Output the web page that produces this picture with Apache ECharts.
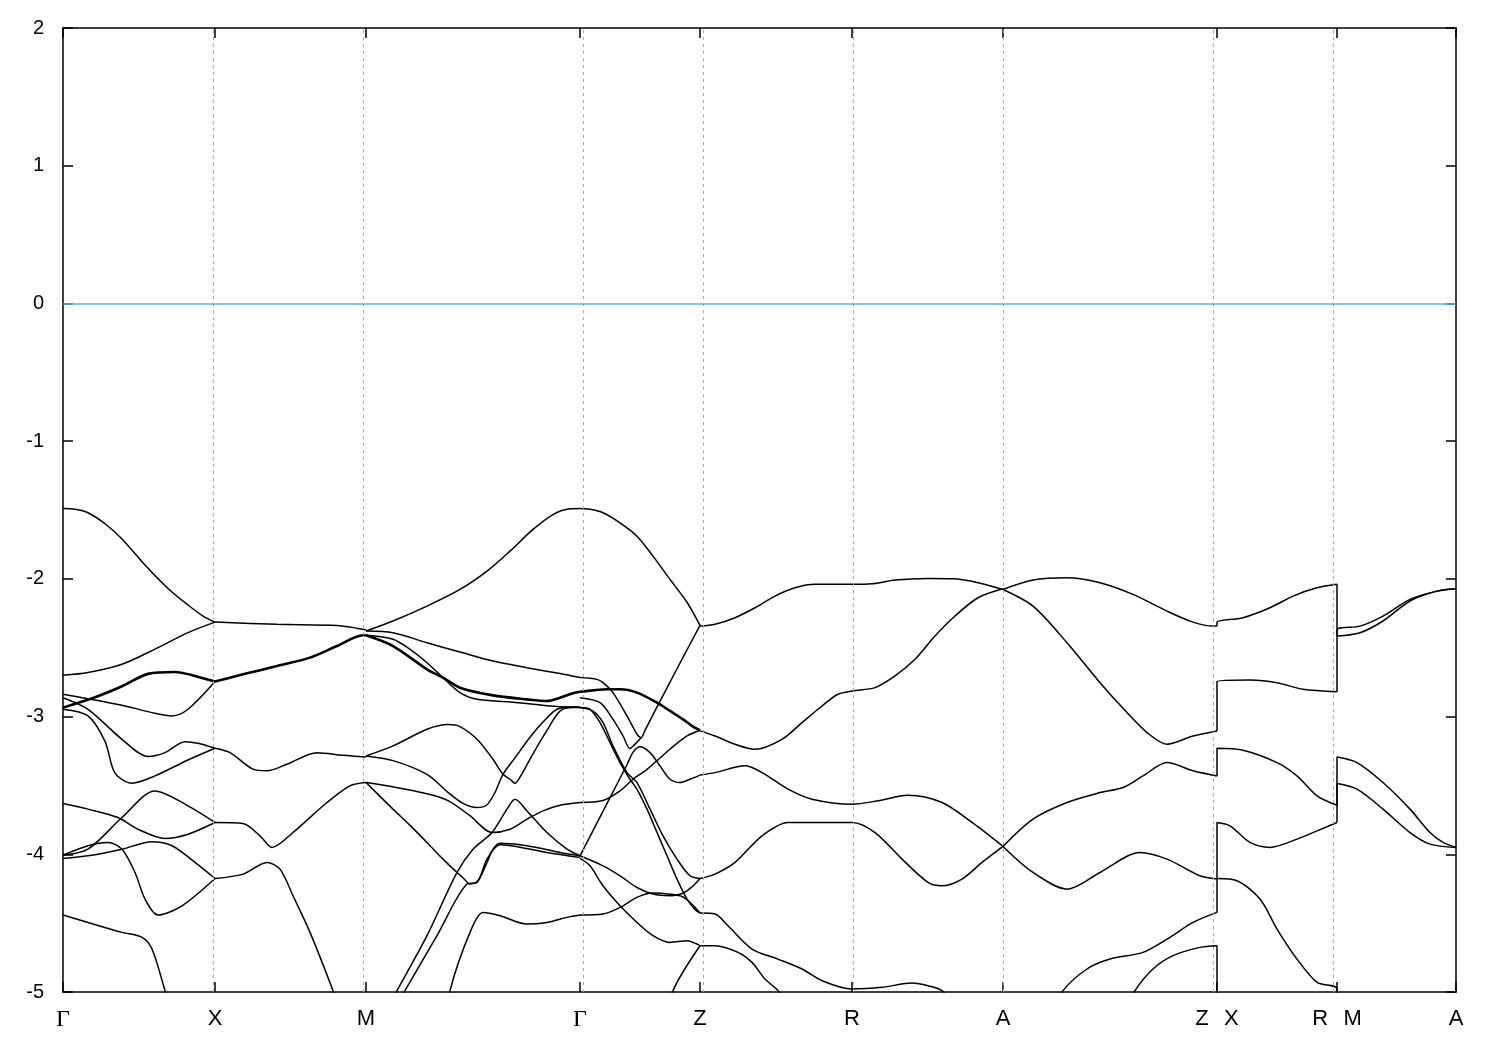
<!DOCTYPE html>
<html>
<head>
<meta charset="utf-8">
<script src="https://cdn.jsdelivr.net/npm/echarts@6/dist/echarts.min.js"></script>
<style>
html,body{margin:0;padding:0;background:#fff;}
#chart{width:1500px;height:1050px;}
</style>
</head>
<body>
<div id="chart"></div>
<script>
// High-symmetry points along the k-path
const kTicks = [0, 0.152, 0.303, 0.517, 0.637, 0.789, 0.940, 1.154, 1.274, 1.393];
const kLabels = ['Γ', 'X', 'M', 'Γ', 'Z', 'R', 'A', 'Z\u2002\u2009X', 'R\u2002\u2009M', 'A'];
const yMin = -5, yMax = 2, yStep = 1;
const fermiLevel = 0;

// Γ – X
const bandsGX = [
  [[0,-1.49],[0.012,-1.495],[0.025,-1.52],[0.042,-1.60],[0.059,-1.71],[0.082,-1.90],[0.105,-2.07],[0.125,-2.19],[0.140,-2.27],[0.152,-2.314]],
  [[0,-2.70],[0.025,-2.68],[0.059,-2.62],[0.092,-2.51],[0.125,-2.39],[0.152,-2.314]],
  [[0,-2.838],[0.025,-2.87],[0.059,-2.918],[0.092,-2.976],[0.109,-2.995],[0.125,-2.947],[0.152,-2.746]],
  [[0,-2.863],[0.025,-2.947],[0.059,-3.165],[0.085,-3.29],[0.102,-3.262],[0.122,-3.182],[0.135,-3.194],[0.152,-3.23]],
  [[0,-2.947],[0.025,-2.995],[0.042,-3.18],[0.052,-3.41],[0.069,-3.484],[0.092,-3.431],[0.125,-3.315],[0.152,-3.23]],
  [[0,-3.631],[0.025,-3.672],[0.055,-3.733],[0.075,-3.818],[0.102,-3.885],[0.125,-3.854],[0.152,-3.769]],
  [[0,-4.006],[0.025,-3.963],[0.059,-3.733],[0.092,-3.540],[0.125,-3.648],[0.152,-3.769]],
  [[0,-4.03],[0.025,-4.011],[0.059,-3.963],[0.089,-3.909],[0.109,-3.938],[0.132,-4.059],[0.152,-4.176]],
  [[0,-4.006],[0.025,-3.938],[0.045,-3.914],[0.059,-3.963],[0.072,-4.132],[0.082,-4.325],[0.095,-4.441],[0.119,-4.374],[0.152,-4.176]],
  [[0,-4.441],[0.025,-4.495],[0.059,-4.567],[0.079,-4.603],[0.089,-4.688],[0.102,-4.99],[0.115,-5.3]]
];
const doubledGX = [
  [[0,-2.935],[0.032,-2.86],[0.059,-2.78],[0.085,-2.69],[0.112,-2.676],[0.132,-2.705],[0.152,-2.746]]
];

// X – M
const bandsXM = [
  [[0.152,-2.314],[0.214,-2.33],[0.274,-2.338],[0.295,-2.36],[0.303,-2.372]],
  [[0.152,-3.23],[0.167,-3.262],[0.190,-3.382],[0.204,-3.394],[0.224,-3.346],[0.254,-3.262],[0.280,-3.281],[0.303,-3.293]],
  [[0.152,-3.769],[0.180,-3.776],[0.197,-3.866],[0.209,-3.95],[0.230,-3.842],[0.264,-3.624],[0.287,-3.503],[0.303,-3.479]],
  [[0.152,-4.176],[0.180,-4.144],[0.204,-4.059],[0.217,-4.108],[0.230,-4.301],[0.247,-4.567],[0.270,-4.99],[0.280,-5.2]]
];
const doubledXM = [
  [[0.152,-2.746],[0.180,-2.693],[0.214,-2.633],[0.247,-2.572],[0.274,-2.488],[0.300,-2.41],[0.303,-2.41]]
];

// M – Γ
const bandsMG = [
  [[0.303,-2.379],[0.330,-2.306],[0.364,-2.198],[0.397,-2.077],[0.424,-1.944],[0.447,-1.799],[0.470,-1.641],[0.490,-1.533],[0.507,-1.491],[0.517,-1.489]],
  [[0.303,-2.379],[0.330,-2.391],[0.364,-2.464],[0.397,-2.531],[0.430,-2.597],[0.464,-2.645],[0.497,-2.688],[0.517,-2.717]],
  [[0.303,-2.41],[0.330,-2.439],[0.347,-2.512],[0.364,-2.609],[0.380,-2.717],[0.397,-2.826],[0.414,-2.875],[0.447,-2.894],[0.480,-2.918],[0.497,-2.928],[0.517,-2.93]],
  [[0.303,-3.286],[0.330,-3.213],[0.364,-3.092],[0.385,-3.058],[0.397,-3.073],[0.414,-3.165],[0.430,-3.31],[0.440,-3.419],[0.447,-3.455],[0.452,-3.484],[0.457,-3.44],[0.470,-3.27],[0.484,-3.10],[0.497,-2.96],[0.510,-2.935],[0.517,-2.935]],
  [[0.303,-3.286],[0.330,-3.32],[0.364,-3.42],[0.385,-3.55],[0.400,-3.63],[0.414,-3.66],[0.424,-3.64],[0.432,-3.55],[0.440,-3.419],[0.454,-3.28],[0.467,-3.15],[0.480,-3.04],[0.494,-2.947],[0.510,-2.93],[0.517,-2.935]],
  [[0.303,-3.479],[0.330,-3.51],[0.364,-3.56],[0.385,-3.61],[0.407,-3.72],[0.429,-3.842],[0.447,-3.818],[0.464,-3.745],[0.480,-3.685],[0.497,-3.644],[0.517,-3.624]],
  [[0.303,-3.479],[0.330,-3.672],[0.347,-3.79],[0.364,-3.914],[0.380,-4.035],[0.394,-4.132],[0.400,-4.17],[0.407,-4.216],[0.415,-4.192],[0.424,-4.059],[0.430,-3.963],[0.437,-3.919],[0.457,-3.93],[0.480,-3.96],[0.497,-3.987],[0.517,-4.011]],
  [[0.311,-5.3],[0.334,-4.99],[0.364,-4.591],[0.394,-4.132],[0.410,-3.963],[0.429,-3.842],[0.444,-3.672],[0.452,-3.60],[0.464,-3.685],[0.484,-3.842],[0.504,-3.963],[0.517,-4.011]],
  [[0.318,-5.3],[0.342,-4.99],[0.374,-4.591],[0.404,-4.216],[0.414,-4.204],[0.424,-4.035],[0.437,-3.93],[0.450,-3.94],[0.484,-3.987],[0.517,-4.023]],
  [[0.381,-5.3],[0.387,-4.99],[0.407,-4.567],[0.420,-4.422],[0.437,-4.446],[0.464,-4.507],[0.484,-4.495],[0.504,-4.458],[0.517,-4.441]]
];
const doubledMG = [
  [[0.303,-2.41],[0.330,-2.488],[0.364,-2.657],[0.380,-2.718],[0.397,-2.79],[0.430,-2.846],[0.464,-2.875],[0.484,-2.887],[0.497,-2.863],[0.510,-2.831],[0.517,-2.82]]
];

// Γ – Z
const bandsGZ = [
  [[0.517,-1.489],[0.527,-1.495],[0.540,-1.52],[0.557,-1.593],[0.574,-1.69],[0.590,-1.835],[0.607,-2.004],[0.624,-2.17],[0.637,-2.338]],
  [[0.517,-2.717],[0.534,-2.73],[0.540,-2.754],[0.550,-2.826],[0.564,-2.995],[0.574,-3.128],[0.578,-3.153],[0.582,-3.10],[0.594,-2.93],[0.607,-2.75],[0.620,-2.57],[0.637,-2.338]],
  [[0.517,-2.863],[0.537,-2.899],[0.550,-3.02],[0.560,-3.14],[0.567,-3.232],[0.572,-3.2],[0.578,-3.153]],
  [[0.517,-4.011],[0.534,-3.772],[0.547,-3.589],[0.557,-3.448],[0.564,-3.35],[0.570,-3.26],[0.577,-3.22],[0.587,-3.262],[0.597,-3.358],[0.607,-3.455],[0.617,-3.479],[0.627,-3.455],[0.637,-3.425]],
  [[0.517,-3.624],[0.540,-3.61],[0.557,-3.54],[0.570,-3.455],[0.584,-3.383],[0.607,-3.237],[0.624,-3.141],[0.637,-3.099]],
  [[0.517,-2.935],[0.527,-2.947],[0.537,-3.044],[0.547,-3.189],[0.557,-3.334],[0.567,-3.455],[0.574,-3.528],[0.584,-3.672],[0.594,-3.842],[0.604,-4.011],[0.614,-4.18],[0.624,-4.325],[0.632,-4.40],[0.637,-4.427]],
  [[0.517,-2.935],[0.530,-2.96],[0.540,-3.044],[0.550,-3.213],[0.564,-3.407],[0.574,-3.479],[0.587,-3.672],[0.600,-3.866],[0.614,-4.035],[0.627,-4.156],[0.637,-4.176]],
  [[0.517,-4.011],[0.540,-4.084],[0.557,-4.156],[0.574,-4.241],[0.590,-4.289],[0.607,-4.301],[0.620,-4.283],[0.630,-4.23],[0.637,-4.176]],
  [[0.517,-4.441],[0.540,-4.434],[0.557,-4.386],[0.574,-4.313],[0.590,-4.282],[0.607,-4.29],[0.620,-4.31],[0.630,-4.37],[0.637,-4.427]],
  [[0.517,-4.03],[0.527,-4.084],[0.540,-4.229],[0.557,-4.374],[0.574,-4.495],[0.590,-4.591],[0.607,-4.64],[0.624,-4.628],[0.634,-4.652],[0.637,-4.664]],
  [[0.600,-5.3],[0.610,-4.99],[0.637,-4.664]]
];
const doubledGZ = [
  [[0.517,-2.82],[0.530,-2.81],[0.544,-2.802],[0.557,-2.802],[0.574,-2.826],[0.594,-2.899],[0.607,-2.959],[0.620,-3.02],[0.630,-3.073],[0.637,-3.099]]
];

// Z – R – A
const bandsZRA = [
  [[0.637,-2.343],[0.652,-2.330],[0.672,-2.282],[0.692,-2.210],[0.712,-2.125],[0.732,-2.065],[0.752,-2.040],[0.789,-2.040],[0.809,-2.036],[0.832,-2.009],[0.865,-1.997],[0.892,-2.000],[0.915,-2.028],[0.940,-2.077]],
  [[0.637,-3.104],[0.652,-3.141],[0.672,-3.201],[0.692,-3.237],[0.719,-3.165],[0.739,-3.044],[0.759,-2.923],[0.775,-2.838],[0.789,-2.814],[0.812,-2.790],[0.832,-2.705],[0.852,-2.584],[0.872,-2.415],[0.892,-2.270],[0.915,-2.137],[0.940,-2.072]],
  [[0.637,-3.425],[0.652,-3.407],[0.682,-3.358],[0.699,-3.407],[0.725,-3.527],[0.749,-3.600],[0.789,-3.636],[0.815,-3.612],[0.845,-3.571],[0.879,-3.624],[0.909,-3.769],[0.940,-3.943]],
  [[0.637,-4.176],[0.652,-4.144],[0.672,-4.059],[0.699,-3.866],[0.725,-3.769],[0.749,-3.769],[0.789,-3.769],[0.812,-3.842],[0.839,-4.035],[0.865,-4.204],[0.879,-4.229],[0.899,-4.180],[0.919,-4.059],[0.940,-3.943]],
  [[0.637,-4.427],[0.652,-4.434],[0.665,-4.519],[0.689,-4.688],[0.715,-4.761],[0.739,-4.833],[0.759,-4.918],[0.789,-4.978],[0.819,-4.966],[0.849,-4.935],[0.865,-4.954],[0.879,-4.990],[0.890,-5.1]],
  [[0.637,-4.664],[0.652,-4.664],[0.675,-4.712],[0.689,-4.785],[0.702,-4.906],[0.715,-4.99],[0.725,-5.1]]
];

// A – Z
const bandsAZ = [
  [[0.940,-2.077],[0.970,-2.009],[1.004,-1.992],[1.037,-2.028],[1.070,-2.113],[1.104,-2.234],[1.130,-2.314],[1.150,-2.343],[1.154,-2.343]],
  [[0.940,-2.077],[0.970,-2.198],[1.004,-2.464],[1.037,-2.754],[1.064,-2.971],[1.084,-3.116],[1.104,-3.201],[1.130,-3.141],[1.154,-3.104]],
  [[0.940,-3.943],[0.970,-3.745],[1.004,-3.624],[1.037,-3.552],[1.060,-3.515],[1.080,-3.431],[1.104,-3.334],[1.130,-3.394],[1.154,-3.431]],
  [[0.940,-3.943],[0.970,-4.132],[1.004,-4.253],[1.037,-4.132],[1.077,-3.987],[1.104,-4.035],[1.137,-4.156],[1.154,-4.180]],
  [[0.995,-5.1],[1.000,-4.99],[1.024,-4.833],[1.047,-4.761],[1.080,-4.712],[1.104,-4.616],[1.130,-4.495],[1.154,-4.422]],
  [[1.066,-5.1],[1.072,-4.99],[1.090,-4.833],[1.110,-4.736],[1.137,-4.676],[1.154,-4.664],[1.154,-5.3]]
];

// X – R (path jumps from Z to X at the same abscissa)
const bandsXR = [
  [[1.154,-2.343],[1.154,-2.314],[1.180,-2.282],[1.207,-2.210],[1.230,-2.125],[1.254,-2.065],[1.274,-2.040]],
  [[1.154,-3.104],[1.154,-2.746],[1.187,-2.735],[1.214,-2.754],[1.240,-2.802],[1.274,-2.819]],
  [[1.154,-3.431],[1.154,-3.23],[1.180,-3.244],[1.214,-3.334],[1.234,-3.431],[1.254,-3.576],[1.274,-3.644]],
  [[1.154,-4.422],[1.154,-3.769],[1.167,-3.793],[1.187,-3.914],[1.207,-3.950],[1.234,-3.890],[1.254,-3.830],[1.274,-3.769]],
  [[1.154,-4.176],[1.174,-4.192],[1.197,-4.325],[1.214,-4.543],[1.234,-4.761],[1.254,-4.930],[1.274,-4.978],[1.274,-5.3]]
];

// M – A (path jumps from R to M at the same abscissa)
const bandsMA = [
  [[1.274,-2.819],[1.274,-2.372],[1.297,-2.343],[1.320,-2.270],[1.347,-2.149],[1.374,-2.089],[1.393,-2.072]],
  [[1.274,-2.040],[1.274,-2.415],[1.297,-2.391],[1.320,-2.306],[1.347,-2.161],[1.374,-2.089],[1.393,-2.072]],
  [[1.274,-3.644],[1.274,-3.293],[1.294,-3.334],[1.320,-3.479],[1.347,-3.672],[1.367,-3.842],[1.380,-3.914],[1.393,-3.950]],
  [[1.274,-3.769],[1.274,-3.486],[1.294,-3.527],[1.320,-3.672],[1.347,-3.842],[1.367,-3.926],[1.393,-3.950]]
];

const singleBands = [].concat(bandsGX, bandsXM, bandsMG, bandsGZ, bandsZRA, bandsAZ, bandsXR, bandsMA);
const doubledBands = [].concat(doubledGX, doubledXM, doubledMG, doubledGZ);

const chart = echarts.init(document.getElementById('chart'), null, {renderer: 'canvas'});

function labelFor(v) {
  for (let i = 0; i < kTicks.length; i++) {
    if (Math.abs(kTicks[i] - v) < 1e-6) {
      return kLabels[i] === 'Γ' ? '{g|Γ}' : kLabels[i];
    }
  }
  return '';
}

const axisLineStyle = {color: '#000', width: 1.5};
const series = [];

series.push({
  type: 'line',
  data: [[0, fermiLevel]],
  showSymbol: false,
  lineStyle: {opacity: 0},
  silent: true,
  z: 1,
  markLine: {
    silent: true,
    symbol: ['none', 'none'],
    label: {show: false},
    animation: false,
    lineStyle: {color: '#a8a8a8', type: [3, 4], width: 1},
    data: kTicks.slice(1, -1).map(v => ({xAxis: v}))
  }
});
series.push({
  type: 'line',
  data: [[0, fermiLevel]],
  showSymbol: false,
  lineStyle: {opacity: 0},
  silent: true,
  z: 1,
  markLine: {
    silent: true,
    symbol: ['none', 'none'],
    label: {show: false},
    animation: false,
    lineStyle: {color: '#56b4e9', type: 'solid', width: 1.5},
    data: [{yAxis: fermiLevel}]
  }
});

singleBands.forEach(b => series.push({
  type: 'line', data: b, showSymbol: false, smooth: 0.3, silent: true, z: 3,
  lineStyle: {color: '#000', width: 1.5}, clip: true
}));
doubledBands.forEach(b => series.push({
  type: 'line', data: b, showSymbol: false, smooth: 0.3, silent: true, z: 3,
  lineStyle: {color: '#000', width: 2.6}, clip: true
}));

const option = {
  animation: false,
  backgroundColor: '#fff',
  grid: {left: 63, right: 44, top: 28, bottom: 58, containLabel: false},
  xAxis: [{
    type: 'value', min: kTicks[0], max: kTicks[kTicks.length - 1], position: 'bottom',
    axisLine: {show: true, onZero: false, lineStyle: axisLineStyle},
    axisTick: {show: true, inside: true, length: 10, customValues: kTicks, lineStyle: axisLineStyle},
    axisLabel: {
      show: true, customValues: kTicks, formatter: labelFor, margin: 16,
      color: '#000', fontSize: 22, fontFamily: 'Liberation Sans, Arial, sans-serif',
      rich: {g: {fontFamily: 'Liberation Serif, serif', fontSize: 24, color: '#000'}}
    },
    splitLine: {show: false}
  }, {
    type: 'value', min: kTicks[0], max: kTicks[kTicks.length - 1], position: 'top',
    axisLine: {show: true, onZero: false, lineStyle: axisLineStyle},
    axisTick: {show: true, inside: true, length: 10, customValues: kTicks, lineStyle: axisLineStyle},
    axisLabel: {show: false},
    splitLine: {show: false}
  }],
  yAxis: [{
    type: 'value', min: yMin, max: yMax, interval: yStep, position: 'left',
    axisLine: {show: true, onZero: false, lineStyle: axisLineStyle},
    axisTick: {show: true, inside: true, length: 10, lineStyle: axisLineStyle},
    axisLabel: {color: '#000', fontSize: 20, margin: 19, fontFamily: 'Liberation Sans, Arial, sans-serif'},
    splitLine: {show: false}
  }, {
    type: 'value', min: yMin, max: yMax, interval: yStep, position: 'right',
    axisLine: {show: true, onZero: false, lineStyle: axisLineStyle},
    axisTick: {show: true, inside: true, length: 10, lineStyle: axisLineStyle},
    axisLabel: {show: false},
    splitLine: {show: false}
  }],
  series: series
};
chart.setOption(option);
</script>
</body>
</html>
